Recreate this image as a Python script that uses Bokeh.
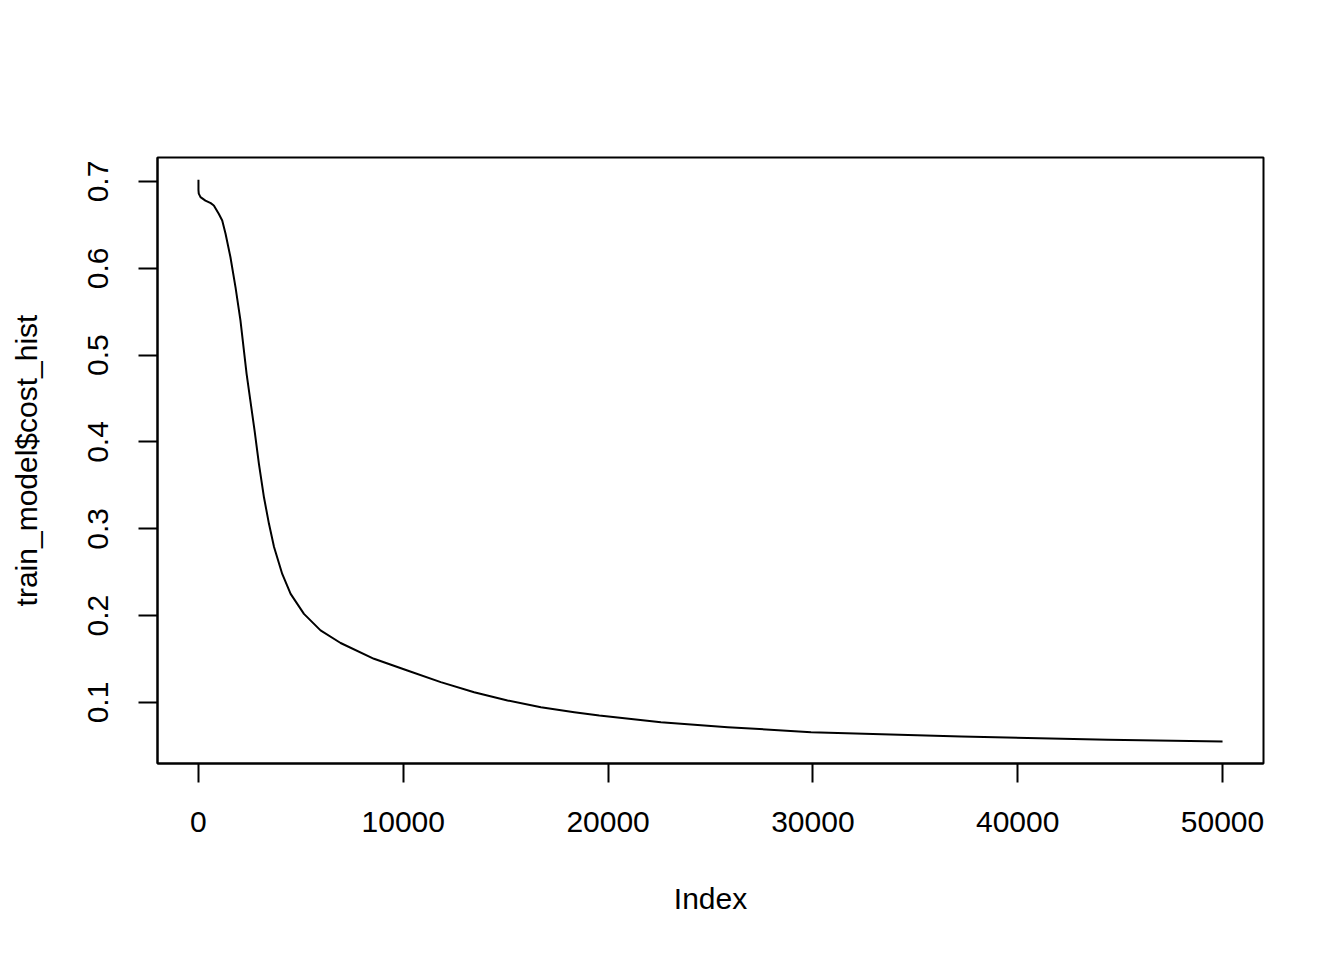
from bokeh.plotting import figure
from bokeh.models import Range1d, FixedTicker, BasicTickFormatter
from bokeh.embed import file_html
from bokeh.resources import INLINE

# Data (iteration index vs cost)
iteration = [0, 0, 15, 100, 340, 600, 750, 990, 1160, 1320, 1560, 1810, 2050, 2350,
             2740, 2950, 3200, 3440, 3690, 4090, 4500, 5150, 5960, 6940, 8570,
             10200, 11830, 13460, 15090, 16720, 18350, 19570, 22580, 25840,
             29910, 37240, 44410, 50000]
cost_hist = [0.702, 0.690, 0.686, 0.682, 0.678, 0.675, 0.6724, 0.6628, 0.655, 0.640,
             0.613, 0.578, 0.540, 0.4785, 0.413, 0.375, 0.336, 0.306, 0.279, 0.248,
             0.225, 0.202, 0.183, 0.1685, 0.1503, 0.1368, 0.1234, 0.1118,
             0.1023, 0.0946, 0.0888, 0.0850, 0.0773, 0.0715, 0.0658, 0.0608, 0.0570,
             0.0551]

x_ticks = [0, 10000, 20000, 30000, 40000, 50000]
y_ticks = [0.1, 0.2, 0.3, 0.4, 0.5, 0.6, 0.7]

FONT = "'Liberation Sans', Arial, sans-serif"
FS = "30px"

p = figure(width=1328, height=944, output_backend="svg", toolbar_location=None,
           x_range=Range1d(-2000, 52000), y_range=Range1d(0.0297, 0.7276))
p.min_border_left = 157
p.min_border_right = 65
p.min_border_top = 157
p.min_border_bottom = 181
p.background_fill_color = "white"
p.border_fill_color = "white"
p.outline_line_color = "black"
p.outline_line_width = 2
p.grid.visible = False

p.line(iteration, cost_hist, line_color="black", line_width=2, line_join="round")

for ax in (p.xaxis[0], p.yaxis[0]):
    ax.axis_line_color = "black"
    ax.axis_line_width = 2
    ax.major_tick_line_color = "black"
    ax.major_tick_line_width = 2
    ax.major_tick_out = 19
    ax.major_tick_in = 0
    ax.minor_tick_line_color = None
    ax.major_label_text_font = FONT
    ax.major_label_text_font_size = FS
    ax.major_label_text_color = "black"
    ax.axis_label_text_font = FONT
    ax.axis_label_text_font_size = FS
    ax.axis_label_text_font_style = "normal"
    ax.axis_label_text_color = "black"

p.xaxis.ticker = FixedTicker(ticks=x_ticks)
p.xaxis.formatter = BasicTickFormatter(use_scientific=False)
p.xaxis.major_label_standoff = 29
p.xaxis.axis_label = "Index"
p.xaxis.axis_label_standoff = 47

p.yaxis.ticker = FixedTicker(ticks=y_ticks)
p.yaxis.major_label_orientation = "vertical"
p.yaxis.major_label_standoff = 30
p.yaxis.axis_label = "train_model$cost_hist"
p.yaxis.axis_label_standoff = 43

open("out.html", "w").write(file_html(p, INLINE))
